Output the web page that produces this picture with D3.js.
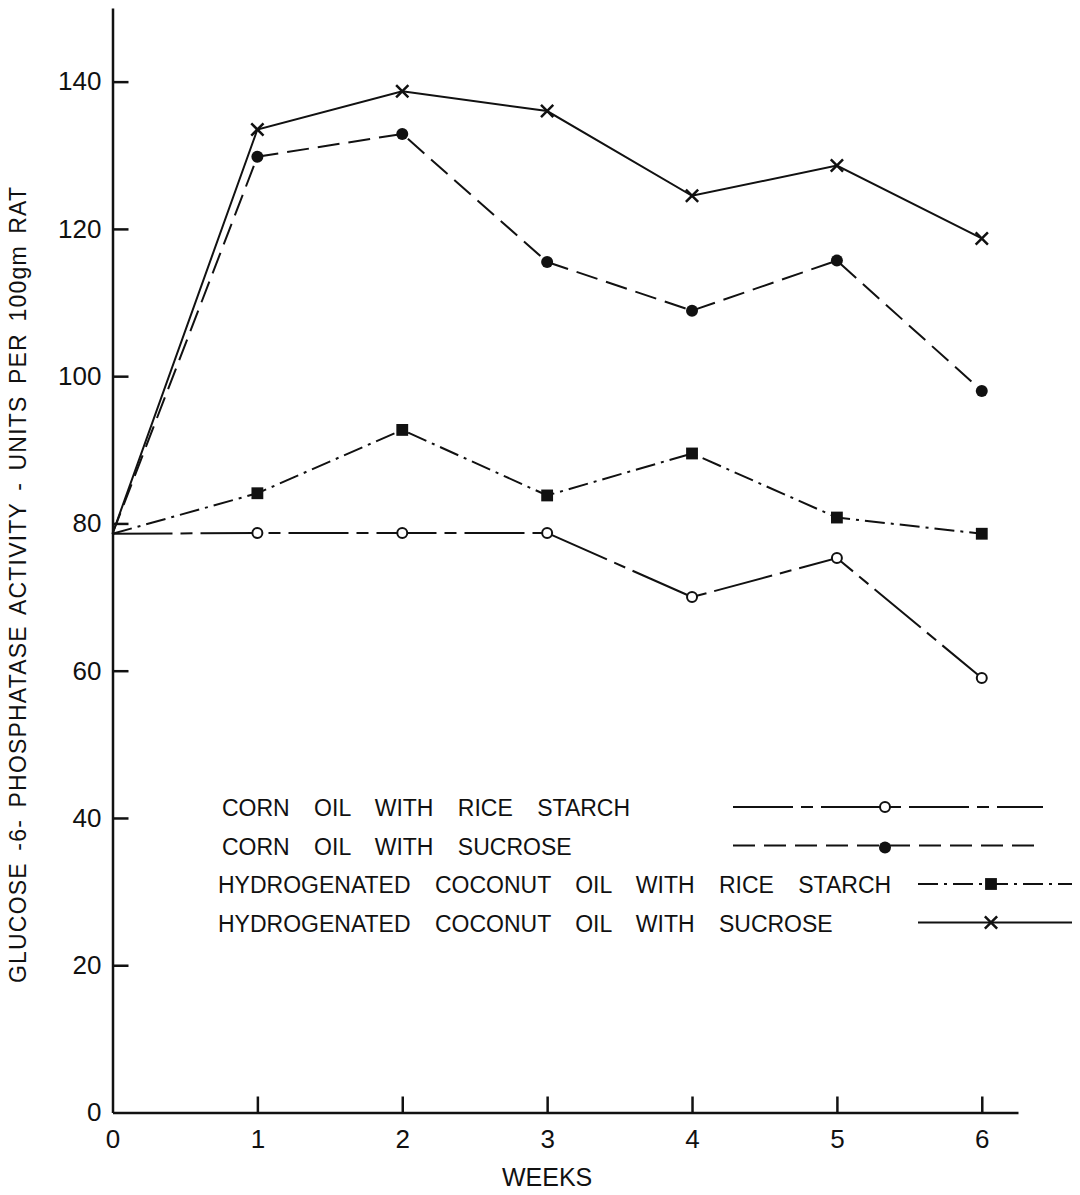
<!DOCTYPE html>
<html>
<head>
<meta charset="utf-8">
<script src="https://cdn.jsdelivr.net/npm/d3@7"></script>
<style>
  body { margin: 0; background: #fff; }
  svg { display: block; }
  text { font-family: "Liberation Sans", Arial, sans-serif; fill: #111; }
</style>
</head>
<body>
<svg width="1080" height="1195"></svg>
<script>
// glucose-6-phosphatase activity, 4 diets over 6 weeks

var weeks = [0, 1, 2, 3, 4, 5, 6];
var cornRice     = [78.6, 78.7, 78.7, 78.7, 70.0, 75.3, 59.0];
var cornSucrose  = [78.6, 129.8, 132.9, 115.5, 108.9, 115.7, 98.0];
var cocoRice     = [78.6, 84.1, 92.7, 83.8, 89.5, 80.8, 78.6];
var cocoSucrose  = [78.6, 133.5, 138.7, 136.0, 124.5, 128.6, 118.7];

var legendLabels = [
  "CORN OIL WITH RICE STARCH",
  "CORN OIL WITH SUCROSE",
  "HYDROGENATED COCONUT OIL WITH RICE STARCH",
  "HYDROGENATED COCONUT OIL WITH SUCROSE"
];
var yTicks = [0, 20, 40, 60, 80, 100, 120, 140];
var xTicks = [0, 1, 2, 3, 4, 5, 6];

var series = [
  {values: cornRice,    dash: "60,8,12,8", marker: "open"},
  {values: cornSucrose, dash: "22,9",      marker: "dot"},
  {values: cocoRice,    dash: "20,6,3,6",  marker: "square"},
  {values: cocoSucrose, dash: null,        marker: "times"}
];

var svg = d3.select("svg");

// 0 sits on the x axis at 1112.5, the axis runs up to 150
var xScale = d3.scaleLinear().domain([0, 6.25]).range([112.5, 1018]);
var yScale = d3.scaleLinear().domain([0, 150]).range([1112.5, 8]);

// y axis, ticks pointing inward
var yAxis = d3.axisLeft(yScale)
  .tickValues(yTicks)
  .tickFormat(d3.format("d"))
  .tickSize(-16)
  .tickSizeOuter(0)
  .tickPadding(11);

var yG = svg.append("g")
  .attr("transform", "translate(" + xScale(0) + ",0)")
  .call(yAxis);

// x axis
var xAxis = d3.axisBottom(xScale)
  .tickValues(xTicks)
  .tickFormat(d3.format("d"))
  .tickSize(-16)
  .tickSizeOuter(0)
  .tickPadding(17);

var xG = svg.append("g")
  .attr("transform", "translate(0," + yScale(0) + ")")
  .call(xAxis);

[yG, xG].forEach(function(g) {
  g.select(".domain").attr("stroke", "#111").attr("stroke-width", 2.5);
  g.selectAll(".tick line").attr("stroke", "#111").attr("stroke-width", 2.5);
  g.selectAll(".tick text")
    .style("font-family", "'Liberation Sans', Arial, sans-serif")
    .style("font-size", "26px")
    .attr("fill", "#111");
});
// no tick marks at the origin
yG.selectAll(".tick").filter(function(d) { return d === 0; }).select("line").remove();
xG.selectAll(".tick").filter(function(d) { return d === 0; }).select("line").remove();

// axis titles
svg.append("text")
  .attr("x", (xScale(0) + xScale(6)) / 2)
  .attr("y", 1186)
  .attr("text-anchor", "middle")
  .style("font-size", "25px")
  .text("WEEKS");

svg.append("text")
  .attr("transform", "translate(26,585) rotate(-90)")
  .attr("text-anchor", "middle")
  .attr("textLength", 796)
  .attr("lengthAdjust", "spacing")
  .style("font-size", "23px")
  .style("word-spacing", "4px")
  .text("GLUCOSE -6- PHOSPHATASE  ACTIVITY - UNITS  PER  100gm  RAT");

// marker drawing
function drawMarker(g, type, cx, cy) {
  if (type === "open") {
    g.append("circle").attr("cx", cx).attr("cy", cy).attr("r", 5)
      .attr("fill", "#fff").attr("stroke", "#111").attr("stroke-width", 2);
  } else if (type === "dot") {
    g.append("circle").attr("cx", cx).attr("cy", cy).attr("r", 6)
      .attr("fill", "#111");
  } else if (type === "square") {
    g.append("path")
      .attr("d", d3.symbol().type(d3.symbolSquare).size(140)())
      .attr("transform", "translate(" + cx + "," + cy + ")")
      .attr("fill", "#111");
  } else {
    g.append("path")
      .attr("d", d3.symbol().type(d3.symbolTimes).size(100)())
      .attr("transform", "translate(" + cx + "," + cy + ")")
      .attr("fill", "none").attr("stroke", "#111").attr("stroke-width", 2.5);
  }
}

// lines
series.forEach(function(s) {
  var line = d3.line()
    .x(function(d, i) { return xScale(weeks[i]); })
    .y(function(d) { return yScale(d); });

  svg.append("path")
    .attr("d", line(s.values))
    .attr("fill", "none")
    .attr("stroke", "#111")
    .attr("stroke-width", 2)
    .attr("stroke-dasharray", s.dash);

  var mg = svg.append("g");
  s.values.forEach(function(v, i) {
    if (i === 0) return; // start point has no marker
    drawMarker(mg, s.marker, xScale(weeks[i]), yScale(v));
  });
});

// legend
var legend = svg.append("g");
legendLabels.forEach(function(label, i) {
  var rowY = 807 + i * 38.5;
  var long = i < 2;
  legend.append("text")
    .attr("x", long ? 222 : 218)
    .attr("y", rowY + 9)
    .style("font-size", "23px")
    .style("word-spacing", "18px")
    .text(label);

  var x1 = long ? 733 : 918, x2 = long ? 1043 : 1072;
  legend.append("line")
    .attr("x1", x1).attr("x2", x2)
    .attr("y1", rowY).attr("y2", rowY)
    .attr("stroke", "#111")
    .attr("stroke-width", 2)
    .attr("stroke-dasharray", series[i].dash);

  drawMarker(legend, series[i].marker, long ? 885 : 991, rowY + (i === 1 ? 2 : 0));
});
</script>
</body>
</html>
